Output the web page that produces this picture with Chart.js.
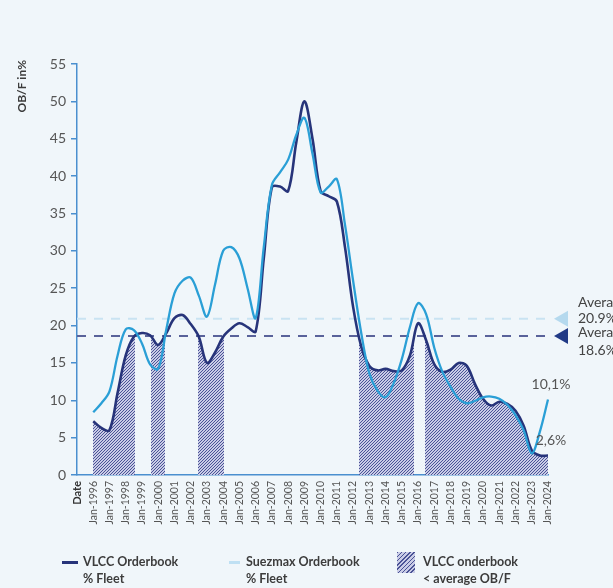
<!DOCTYPE html>
<html>
<head>
<meta charset="utf-8">
<script src="https://cdn.jsdelivr.net/npm/chart.js@4.4.1/dist/chart.umd.min.js"></script>
<style>
  body { margin: 0; background: #f0f6fa; font-family: Lato, sans-serif; }
  #wrap { position: relative; width: 613px; height: 588px; overflow: hidden; }
  #chart { position: absolute; left: 0; top: 0; }
  .key-line { position: absolute; height: 3px; }
  .key-box { position: absolute; width: 18px; height: 21px;
    background: repeating-linear-gradient(135deg, #4a5396 0 1px, #c9cce6 1px 3px); }
  .key-text { position: absolute; font: bold 12.5px Lato, sans-serif; line-height: 17px; color: #3c3c3c; white-space: nowrap; }
</style>
</head>
<body>
<div id="wrap">
  <canvas id="chart" width="613" height="588"></canvas>
  <div class="key-line" style="left:62px; top:561px; width:16px; background:#27347a"></div>
  <div class="key-text" style="left:83px; top:553px">VLCC Orderbook<br>% Fleet</div>
  <div class="key-line" style="left:229px; top:561px; width:11px; background:#bfe0f3"></div>
  <div class="key-text" style="left:246px; top:553px">Suezmax Orderbook<br>% Fleet</div>
  <div class="key-box" style="left:397px; top:552px"></div>
  <div class="key-text" style="left:423px; top:553px">VLCC onderbook<br>&lt; average OB/F</div>
</div>
<script>
// half-yearly orderbook as % of fleet
const periods = [
  1996, 1996.5, 1997, 1997.5, 1998, 1998.5, 1999, 1999.5, 2000, 2000.5,
  2001, 2001.5, 2002, 2002.5, 2003, 2003.5, 2004, 2004.5, 2005, 2005.5,
  2006, 2006.5, 2007, 2007.5, 2008, 2008.5, 2009, 2009.5, 2010, 2010.5,
  2011, 2011.5, 2012, 2012.5, 2013, 2013.5, 2014, 2014.5, 2015, 2015.5,
  2016, 2016.5, 2017, 2017.5, 2018, 2018.5, 2019, 2019.5, 2020, 2020.5,
  2021, 2021.5, 2022, 2022.5, 2023, 2023.5, 2024
];
const vlcc = [
  7.2, 6.3, 6.0, 11.0, 16.0, 18.5, 19.0, 18.7, 17.4, 19.0,
  21.0, 21.4, 20.2, 18.5, 15.0, 16.4, 18.5, 19.6, 20.3, 19.8,
  19.2, 29.0, 38.5, 38.6, 38.0, 44.5, 50.0, 45.0, 38.0, 37.3,
  36.6, 30.5, 22.5, 17.2, 14.6, 14.0, 14.2, 13.9, 14.0, 16.0,
  20.3, 18.0, 14.8, 13.8, 14.1, 15.0, 14.6, 12.2, 10.2, 9.3,
  9.8, 9.5, 8.6, 6.6, 3.3, 2.6, 2.6
];
const suezmax = [
  8.4, 9.6, 11.2, 16.0, 19.5, 19.4, 17.6, 14.8, 14.2, 19.5,
  24.3, 26.0, 26.4, 24.0, 21.2, 25.5, 30.0, 30.5, 29.0, 25.0,
  21.0, 30.5, 38.8, 40.5, 42.2, 45.5, 47.8, 43.0, 37.8, 38.6,
  39.6, 33.5, 26.0, 19.0, 13.6, 11.3, 10.4, 12.3, 15.5, 19.8,
  23.0, 21.5, 17.0, 13.8, 11.8, 10.2, 9.6, 9.9, 10.4, 10.5,
  10.2, 9.4, 8.0, 6.0, 2.9, 5.8, 10.1
];
const avgSuezmax = 20.9;
const avgVlcc = 18.6;

const VLCC_COLOR = '#27347a';
const SUEZ_COLOR = '#2a9fd6';
const AXIS_COLOR = '#4a8fcf';
const TEXT_COLOR = '#555';

Chart.defaults.font.family = 'Lato';

const ctx = document.getElementById('chart').getContext('2d');

// fine "/" hatching, one dark pixel per row in a 3px tile
function makeHatch() {
  const c = document.createElement('canvas');
  c.width = 3; c.height = 3;
  const g = c.getContext('2d');
  g.fillStyle = '#c9cce6';
  g.fillRect(0, 0, 3, 3);
  g.fillStyle = '#4a5396';
  for (let r = 0; r < 3; r++) g.fillRect(2 - r, r, 1, 1);
  return ctx.createPattern(c, 'repeat');
}
const hatch = makeHatch();

// shade under the VLCC curve wherever it sits below its average
const hatchPlugin = {
  id: 'hatch',
  beforeDatasetsDraw(chart) {
    const { ctx, chartArea, scales: { y } } = chart;
    const line = chart.getDatasetMeta(1).dataset;
    line.updateControlPoints(chartArea, 'x');
    const limit = y.getPixelForValue(avgVlcc);
    const base = y.getPixelForValue(0);
    ctx.save();
    ctx.beginPath();
    for (let px = Math.floor(chartArea.left); px < chartArea.right; px++) {
      const p = line.interpolate({ x: px + 0.5 }, 'x');
      if (p && p.y > limit) ctx.rect(px, p.y, 1, base - p.y);
    }
    ctx.fillStyle = hatch;
    ctx.fill();
    ctx.restore();
  }
};

const averages = [
  { value: avgSuezmax, line: '#c9e3f2', marker: '#b5d9ee', textShift: [-16, 0] },
  { value: avgVlcc, line: '#59629a', marker: '#213a86', textShift: [-4, 14] }
];

const averagePlugin = {
  id: 'averages',
  beforeDatasetsDraw(chart) {
    const { ctx, chartArea, scales: { y } } = chart;
    ctx.save();
    ctx.lineWidth = 2;
    ctx.setLineDash([9, 8]);
    averages.forEach(a => {
      const py = y.getPixelForValue(a.value);
      ctx.strokeStyle = a.line;
      ctx.beginPath();
      ctx.moveTo(chartArea.left, py);
      ctx.lineTo(chartArea.right + 4, py);
      ctx.stroke();
    });
    ctx.restore();
  },
  afterDatasetsDraw(chart) {
    const { ctx, chartArea, scales: { y } } = chart;
    const tip = chartArea.right + 6;
    ctx.save();
    averages.forEach(a => {
      const py = y.getPixelForValue(a.value);
      ctx.fillStyle = a.marker;
      ctx.beginPath();
      ctx.moveTo(tip, py);
      ctx.lineTo(tip + 14, py - 8);
      ctx.lineTo(tip + 14, py + 8);
      ctx.closePath();
      ctx.fill();
      ctx.fillStyle = '#444';
      ctx.font = '14px Lato';
      ctx.textAlign = 'left';
      ctx.textBaseline = 'middle';
      ctx.fillText('Average', chartArea.right + 30, py + a.textShift[0]);
      ctx.fillText(a.value.toFixed(1) + '%', chartArea.right + 30, py + a.textShift[1]);
    });
    ctx.restore();
  }
};

// latest value printed above the end of each series, plus the axis caption
const labelPlugin = {
  id: 'labels',
  afterDatasetsDraw(chart) {
    const { ctx } = chart;
    ctx.save();
    ctx.font = '14px Lato';
    ctx.fillStyle = TEXT_COLOR;
    ctx.textAlign = 'center';
    ctx.textBaseline = 'middle';
    chart.data.datasets.forEach((ds, i) => {
      const meta = chart.getDatasetMeta(i);
      const last = meta.data.length - 1;
      const pt = meta.data[last];
      const v = ds.data[last].y;
      ctx.fillText(v.toFixed(1).replace('.', ',') + '%', pt.x + 3, pt.y - 15);
    });
    ctx.translate(22, 60);
    ctx.rotate(-Math.PI / 2);
    ctx.font = 'bold 12px Lato';
    ctx.fillStyle = '#3c3c3c';
    ctx.textAlign = 'right';
    ctx.fillText('OB/F in%', 0, 0);
    ctx.restore();
  }
};

new Chart(ctx, {
  type: 'line',
  data: {
    datasets: [
      {
        label: 'Suezmax Orderbook % Fleet',
        data: periods.map((p, i) => ({ x: p, y: suezmax[i] })),
        borderColor: SUEZ_COLOR,
        borderWidth: 2.3,
        tension: 0.35,
        pointRadius: 0,
        clip: 6
      },
      {
        label: 'VLCC Orderbook % Fleet',
        data: periods.map((p, i) => ({ x: p, y: vlcc[i] })),
        borderColor: VLCC_COLOR,
        borderWidth: 2.6,
        tension: 0.35,
        pointRadius: 0,
        clip: 6
      }
    ]
  },
  options: {
    responsive: false,
    animation: false,
    layout: { padding: { left: 0, top: 64, right: 65, bottom: 53 } },
    plugins: { legend: { display: false }, tooltip: { enabled: false } },
    scales: {
      x: {
        type: 'linear',
        min: 1995,
        max: 2024,
        afterFit: s => { s.height = 60; },
        grid: { drawOnChartArea: false, drawTicks: false },
        border: { color: AXIS_COLOR, width: 1.5 },
        ticks: {
          stepSize: 1,
          autoSkip: false,
          minRotation: 90,
          maxRotation: 90,
          padding: 6,
          color: c => c.tick && c.tick.value === 1995 ? '#333' : TEXT_COLOR,
          font: c => c.tick && c.tick.value === 1995 ? { size: 11, weight: 'bold' } : { size: 10.5 },
          callback: v => v === 1995 ? 'Date' : 'Jan-' + v
        }
      },
      y: {
        min: 0,
        max: 55,
        afterFit: s => { s.width = 77; },
        grid: { drawOnChartArea: false, tickLength: 6, color: AXIS_COLOR, lineWidth: 1.5 },
        border: { color: AXIS_COLOR, width: 1.5 },
        ticks: { stepSize: 5, padding: 5, color: TEXT_COLOR, font: { size: 14 } }
      }
    }
  },
  plugins: [hatchPlugin, averagePlugin, labelPlugin]
});
</script>
</body>
</html>
